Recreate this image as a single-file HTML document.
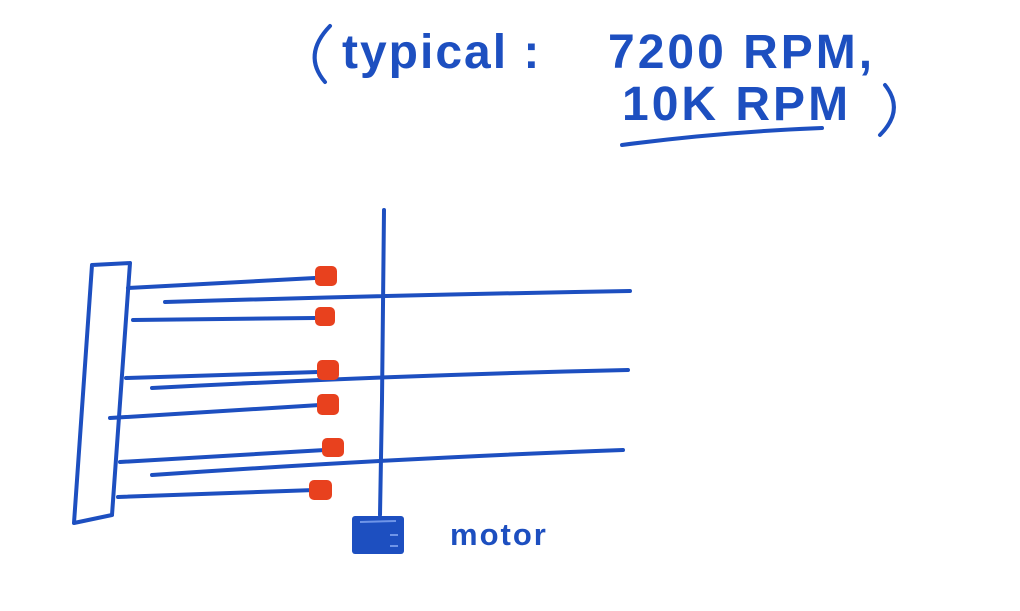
<!DOCTYPE html>
<html><head><meta charset="utf-8"><style>
html,body{margin:0;padding:0;background:#fff;width:1020px;height:611px;overflow:hidden}
svg{display:block}
text{font-family:"Liberation Sans",sans-serif;fill:#1d4fc0;font-weight:bold}
</style></head><body>
<svg width="1020" height="611" viewBox="0 0 1020 611">
<g fill="none" stroke="#1d4fc0" stroke-width="4" stroke-linecap="round" stroke-linejoin="round">
<path d="M330,26 Q302,55 325,82"/>
<path d="M885,85 Q905,110 880,135"/>
<path d="M622,145 Q720,132 822,128"/>
<path d="M92,265 L130,263 M92,265 L74,523 L112,515 M130,263 L112,515"/>
<path d="M384,210 L382,400 L380,515"/>
<path d="M165,302 Q400,295 630,291"/>
<path d="M152,388 Q400,375 628,370"/>
<path d="M152,475 Q400,458 623,450"/>
<path d="M128,288 L315,278"/>
<path d="M133,320 L315,318"/>
<path d="M126,378 L318,372"/>
<path d="M110,418 L320,405"/>
<path d="M120,462 L325,450"/>
<path d="M118,497 L315,490"/>
</g>
<g fill="#e8411e">
<rect x="315" y="266" width="22" height="20" rx="5"/>
<rect x="315" y="307" width="20" height="19" rx="5"/>
<rect x="317" y="360" width="22" height="20" rx="5"/>
<rect x="317" y="394" width="22" height="21" rx="5"/>
<rect x="322" y="438" width="22" height="19" rx="5"/>
<rect x="309" y="480" width="23" height="20" rx="5"/>
</g>
<rect x="352" y="516" width="52" height="38" rx="3" fill="#1d4fc0"/>
<path d="M360,522 L396,521 M390,535 L398,535 M390,546 L398,546" stroke="#6f95e8" stroke-width="2"/>
<text x="450" y="545" font-size="31" letter-spacing="2">motor</text>
<text x="342" y="68" font-size="48" letter-spacing="2">typical :</text>
<text x="608" y="68" font-size="48" letter-spacing="3">7200 RPM,</text>
<text x="622" y="120" font-size="48" letter-spacing="3">10K RPM</text>
</svg>
</body></html>
